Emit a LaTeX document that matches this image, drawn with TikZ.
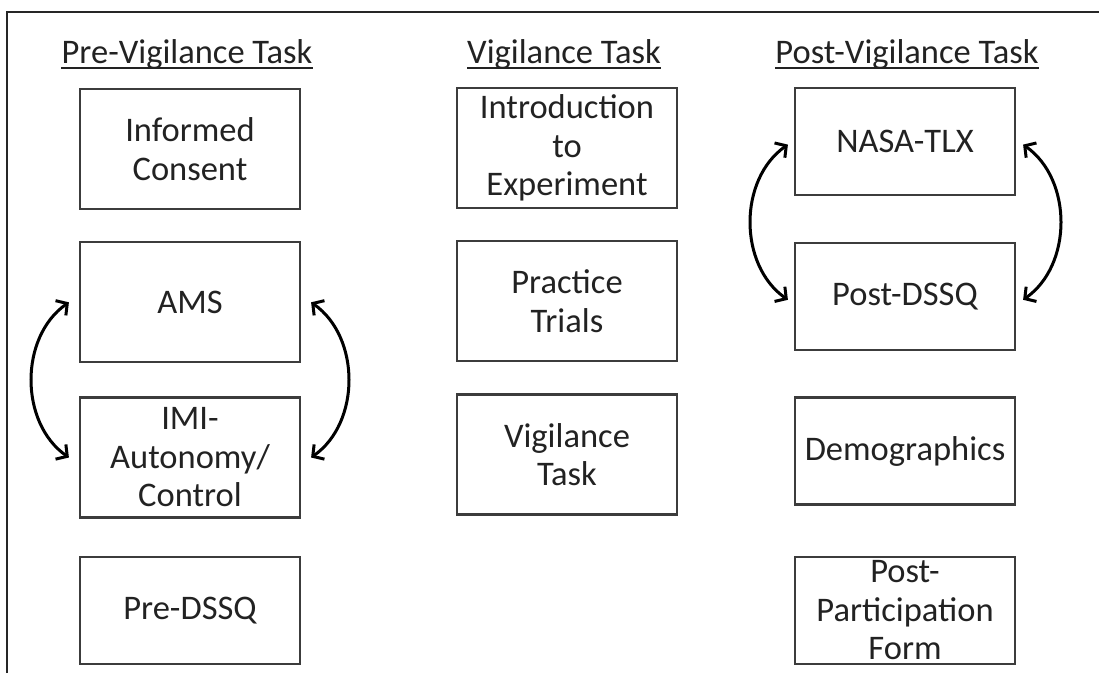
\documentclass[tikz,border=0pt]{standalone}
\usepackage{fontspec}
\setmainfont{Carlito}
\usetikzlibrary{arrows.meta, positioning}
\definecolor{ink}{RGB}{34,34,34}
\definecolor{edge}{RGB}{60,60,60}

\begin{document}
\begin{tikzpicture}[
    x=1pt, y=-1pt,
    box/.style={draw=edge, line width=2.2pt, minimum width=220pt, minimum height=120pt, inner sep=0pt, align=center, anchor=north, text=ink, font=\fontsize{34.5}{38.5}\selectfont},
    lowbox/.style={box, minimum height=107pt},
    head/.style={inner sep=0pt, anchor=base, text=ink, font=\fontsize{34.5}{38.5}\selectfont},
    uline/.style={line width=1.8pt, ink},
    swaparrow/.style={{Straight Barb[length=8pt,width=18pt]}-{Straight Barb[length=8pt,width=18pt]}, line width=3pt},
    frame/.style={line width=1.5pt, black!85},
]
    \useasboundingbox (0,0) rectangle (1099,673);
    \draw[frame] (7,673) -- (7,12) -- (1099,12);

    % column headings
    \node[head] (hpre) at (187,63) {Pre-Vigilance Task};
    \node[head] (hvig) at (564,63) {Vigilance Task};
    \node[head] (hpost) at (907,63) {Post-Vigilance Task};
    \draw[uline] ([yshift=-5pt]hpre.base west) -- ([yshift=-5pt]hpre.base east);
    \draw[uline] ([yshift=-5pt]hvig.base west) -- ([yshift=-5pt]hvig.base east);
    \draw[uline] ([yshift=-5pt]hpost.base west) -- ([yshift=-5pt]hpost.base east);

    % pre-vigilance
    \node[box] (cons) at (190,88) {Informed\\Consent};
    \node[box, below=31pt of cons] (ams) {AMS};
    \node[box, below=33pt of ams] (imi) {IMI-\\Autonomy/\\Control};
    \node[lowbox, below=37pt of imi] (pre) {Pre-DSSQ};

    % vigilance
    \node[box] (intro) at (567,87) {Introduction\\to\\Experiment};
    \node[box, below=31pt of intro] (prac) {Practice\\Trials};
    \node[box, below=31pt of prac] (vig) {Vigilance\\Task};

    % post-vigilance
    \node[lowbox] (nasa) at (905,87) {NASA-TLX};
    \node[lowbox, below=46pt of nasa] (pdssq) {Post-DSSQ};
    \node[lowbox, below=45pt of pdssq] (demo) {Demographics};
    \node[lowbox, below=50pt of demo] (form) {Post-\\Participation\\Form};

    % counterbalanced order
    \draw[swaparrow] ([xshift=-10pt]ams.west) to[bend right=55] ([xshift=-10pt]imi.west);
    \draw[swaparrow] ([xshift=10pt]ams.east) to[bend left=55] ([xshift=10pt]imi.east);
    \draw[swaparrow] ([xshift=-6pt,yshift=-3pt]nasa.west) to[bend right=55] ([xshift=-6pt,yshift=-3pt]pdssq.west);
    \draw[swaparrow] ([xshift=7pt,yshift=-3pt]nasa.east) to[bend left=55] ([xshift=7pt,yshift=-3pt]pdssq.east);
\end{tikzpicture}
\end{document}
